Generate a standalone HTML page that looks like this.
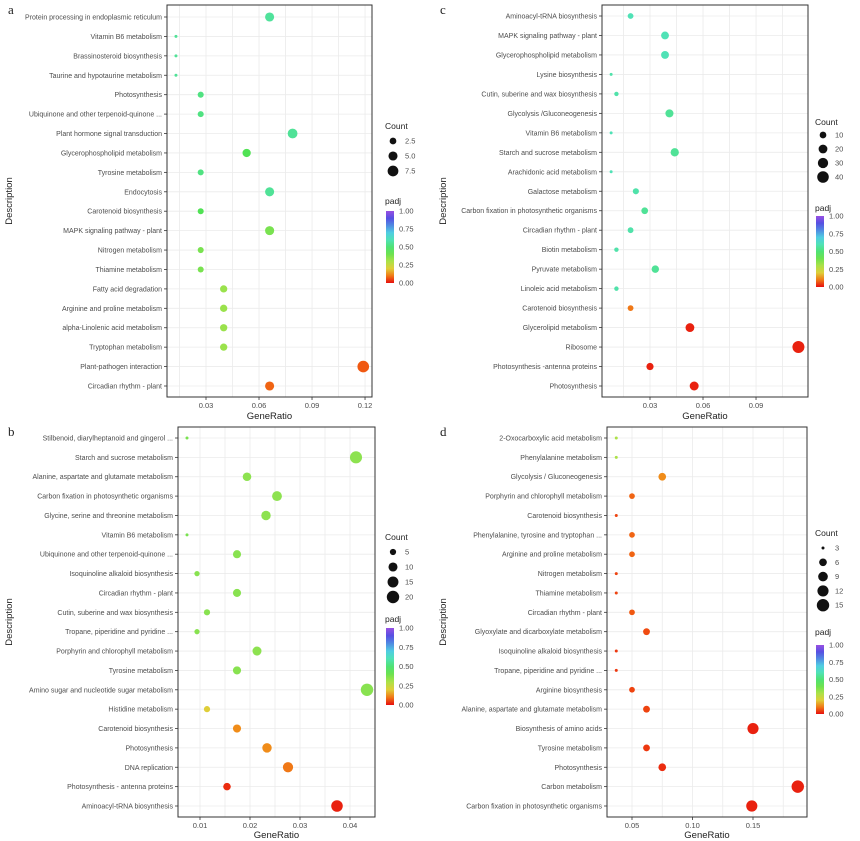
<!DOCTYPE html>
<html><head><meta charset="utf-8"><style>
body{margin:0;background:#fff;}
svg{display:block;font-family:"Liberation Sans",sans-serif;}
</style></head><body>
<svg id="chart" width="860" height="841" viewBox="0 0 860 841" xmlns="http://www.w3.org/2000/svg"></svg>
<script>
// ---------- Panel a ----------
const aTerms=["Protein processing in endoplasmic reticulum","Vitamin B6 metabolism","Brassinosteroid biosynthesis","Taurine and hypotaurine metabolism","Photosynthesis","Ubiquinone and other terpenoid-quinone ...","Plant hormone signal transduction","Glycerophospholipid metabolism","Tyrosine metabolism","Endocytosis","Carotenoid biosynthesis","MAPK signaling pathway - plant","Nitrogen metabolism","Thiamine metabolism","Fatty acid degradation","Arginine and proline metabolism","alpha-Linolenic acid metabolism","Tryptophan metabolism","Plant-pathogen interaction","Circadian rhythm - plant"];
const aRatio=[0.066,0.013,0.013,0.013,0.027,0.027,0.079,0.053,0.027,0.066,0.027,0.066,0.027,0.027,0.040,0.040,0.040,0.040,0.119,0.066];
const aCount=[5,1,1,1,2,2,6,4,2,5,2,5,2,2,3,3,3,3,9,5];
const aPadj=[0.56,0.55,0.55,0.55,0.52,0.52,0.55,0.45,0.52,0.55,0.45,0.38,0.38,0.38,0.33,0.33,0.33,0.33,0.07,0.08];
const aTicks=[0.03,0.06,0.09,0.12];
const aCountLegend=[2.5,5.0,7.5];
// ---------- Panel b ----------
const bTerms=["Stilbenoid, diarylheptanoid and gingerol ...","Starch and sucrose metabolism","Alanine, aspartate and glutamate metabolism","Carbon fixation in photosynthetic organisms","Glycine, serine and threonine metabolism","Vitamin B6 metabolism","Ubiquinone and other terpenoid-quinone ...","Isoquinoline alkaloid biosynthesis","Circadian rhythm - plant","Cutin, suberine and wax biosynthesis","Tropane, piperidine and pyridine ...","Porphyrin and chlorophyll metabolism","Tyrosine metabolism","Amino sugar and nucleotide sugar metabolism","Histidine metabolism","Carotenoid biosynthesis","Photosynthesis","DNA replication","Photosynthesis - antenna proteins","Aminoacyl-tRNA biosynthesis"];
const bRatio=[0.0074,0.0412,0.0194,0.0254,0.0232,0.0074,0.0174,0.0094,0.0174,0.0114,0.0094,0.0214,0.0174,0.0434,0.0114,0.0174,0.0234,0.0276,0.0154,0.0374];
const bCount=[3,19,9,12,11,3,8,4,8,5,4,10,8,20,5,8,11,13,7,17];
const bPadj=[0.38,0.35,0.35,0.35,0.35,0.38,0.36,0.36,0.36,0.36,0.36,0.35,0.36,0.36,0.2,0.12,0.12,0.1,0.03,0.02];
const bTicks=[0.01,0.02,0.03,0.04];
const bCountLegend=[5,10,15,20];
// ---------- Panel c ----------
const cTerms=["Aminoacyl-tRNA biosynthesis","MAPK signaling pathway - plant","Glycerophospholipid metabolism","Lysine biosynthesis","Cutin, suberine and wax biosynthesis","Glycolysis /Gluconeogenesis","Vitamin B6 metabolism","Starch and sucrose metabolism","Arachidonic acid metabolism","Galactose metabolism","Carbon fixation in photosynthetic organisms","Circadian rhythm - plant","Biotin metabolism","Pyruvate metabolism","Linoleic acid metabolism","Carotenoid biosynthesis","Glycerolipid metabolism","Ribosome","Photosynthesis -antenna proteins","Photosynthesis"];
const cRatio=[0.019,0.0385,0.0385,0.008,0.011,0.041,0.008,0.044,0.008,0.022,0.027,0.019,0.011,0.033,0.011,0.019,0.0526,0.114,0.030,0.055];
const cCount=[7,15,15,3,4,16,3,17,3,8,10,7,4,13,4,7,20,44,12,21];
const cPadj=[0.6,0.6,0.6,0.58,0.58,0.55,0.6,0.55,0.6,0.58,0.55,0.58,0.58,0.55,0.58,0.1,0.02,0.02,0.02,0.02];
const cTicks=[0.03,0.06,0.09];
const cCountLegend=[10,20,30,40];
// ---------- Panel d ----------
const dTerms=["2-Oxocarboxylic acid metabolism","Phenylalanine metabolism","Glycolysis / Gluconeogenesis","Porphyrin and chlorophyll metabolism","Carotenoid biosynthesis","Phenylalanine, tyrosine and tryptophan ...","Arginine and proline metabolism","Nitrogen metabolism","Thiamine metabolism","Circadian rhythm - plant","Glyoxylate and dicarboxylate metabolism","Isoquinoline alkaloid biosynthesis","Tropane, piperidine and pyridine ...","Arginine biosynthesis","Alanine, aspartate and glutamate metabolism","Biosynthesis of amino acids","Tyrosine metabolism","Photosynthesis","Carbon metabolism","Carbon fixation in photosynthetic organisms"];
const dRatio=[0.037,0.037,0.075,0.050,0.037,0.050,0.050,0.037,0.037,0.050,0.062,0.037,0.037,0.050,0.062,0.150,0.062,0.075,0.187,0.149];
const dCount=[3,3,6,4,3,4,4,3,3,4,5,3,3,4,5,12,5,6,15,12];
const dPadj=[0.3,0.3,0.12,0.08,0.05,0.08,0.08,0.05,0.05,0.07,0.06,0.04,0.04,0.05,0.05,0.02,0.04,0.03,0.02,0.02];
const dTicks=[0.05,0.10,0.15];
const dCountLegend=[3,6,9,12,15];
const padjTicks=[1.00,0.75,0.50,0.25,0.00];

const svg=document.getElementById('chart');
const NS='http://www.w3.org/2000/svg';
function mk(tag,attrs,parent){const e=document.createElementNS(NS,tag);for(const k in attrs)e.setAttribute(k,attrs[k]);(parent||svg).appendChild(e);return e;}
function colorOf(p){const L=48+12*Math.min(1,p/0.35);const S=p<0.2?88:72;return 'hsl('+(p*270).toFixed(0)+','+S+'%,'+L.toFixed(1)+'%)';}

const panels=[
 {id:'a',letter:'a',lx:8,ly:14,L:167,R:372,T:5,B:397,y0:17,y1:386,t0:0.03,x0:206,ppu:1767,terms:aTerms,ratio:aRatio,count:aCount,padj:aPadj,ticks:aTicks,cl:aCountLegend,cmin:1,cmax:9,rmin:1.5,rmax:5.8,legX:385,countY:126,ent0:141,entStep:15,padjY:201,barT:211,barB:283,titleY:419,ytx:12},
 {id:'b',letter:'b',lx:8,ly:436,L:178,R:375,T:427,B:817,y0:438,y1:806,t0:0.01,x0:200,ppu:5000,terms:bTerms,ratio:bRatio,count:bCount,padj:bPadj,ticks:bTicks,cl:bCountLegend,cmin:3,cmax:20,rmin:1.5,rmax:6.2,legX:385,countY:537,ent0:552,entStep:15,padjY:619,barT:628,barB:705,titleY:838,ytx:12},
 {id:'c',letter:'c',lx:440,ly:14,L:602,R:808,T:5,B:397,y0:16,y1:386,t0:0.03,x0:650,ppu:1767,terms:cTerms,ratio:cRatio,count:cCount,padj:cPadj,ticks:cTicks,cl:cCountLegend,cmin:3,cmax:44,rmin:1.5,rmax:6,legX:815,countY:122,ent0:135,entStep:14,padjY:208,barT:216,barB:287,titleY:419,ytx:446},
 {id:'d',letter:'d',lx:440,ly:436,L:607,R:807,T:427,B:817,y0:438,y1:806,t0:0.05,x0:632,ppu:1210,terms:dTerms,ratio:dRatio,count:dCount,padj:dPadj,ticks:dTicks,cl:dCountLegend,cmin:3,cmax:15,rmin:1.5,rmax:6.2,legX:815,countY:533,ent0:548,entStep:14.3,padjY:632,barT:645,barB:714,titleY:838,ytx:446}
];

panels.forEach(P=>{
  const g=mk('g',{});
  
  
  const xs=v=>P.x0+(v-P.t0)*P.ppu;
  const n=P.terms.length;
  const ys=i=>P.y0+i*(P.y1-P.y0)/(n-1);
  const rs=c=>P.rmin+(P.rmax-P.rmin)*Math.sqrt(Math.max(0,(c-P.cmin))/(P.cmax-P.cmin));
  const lt=mk('text',{x:P.lx,y:P.ly,'font-family':'Liberation Serif,serif','font-size':13,fill:'#222'},g);
  lt.textContent=P.letter;
  
  
  mk('rect',{x:P.L,y:P.T,width:P.R-P.L,height:P.B-P.T,fill:'#fff'},g);
  const step=P.ticks[1]-P.ticks[0];
  for(let v=P.ticks[0]-step;v<=P.ticks[P.ticks.length-1]+step+1e-9;v+=step/2){
    const x=xs(v); if(x<=P.L||x>=P.R) continue;
    mk('line',{x1:x,x2:x,y1:P.T,y2:P.B,stroke:'#ebebeb','stroke-width':0.8},g);
  }
  for(let i=0;i<n;i++){
    const y=ys(i);
    mk('line',{x1:P.L,x2:P.R,y1:y,y2:y,stroke:'#ebebeb','stroke-width':0.8},g);
    mk('line',{x1:P.L-3,x2:P.L,y1:y,y2:y,stroke:'#333','stroke-width':0.8},g);
    const t=mk('text',{x:P.L-5,y:y+2.5,'text-anchor':'end','font-size':7,fill:'#4d4d4d'},g);
    t.textContent=P.terms[i];
    
    
  }
  P.ticks.forEach(v=>{
    const x=xs(v);
    mk('line',{x1:x,x2:x,y1:P.B,y2:P.B+3,stroke:'#333','stroke-width':0.8},g);
    const t=mk('text',{x:x,y:P.B+11,'text-anchor':'middle','font-size':7.5,fill:'#4d4d4d'},g);
    t.textContent=v.toFixed(2);
    
    
  });
  mk('rect',{x:P.L,y:P.T,width:P.R-P.L,height:P.B-P.T,fill:'none',stroke:'#333','stroke-width':1},g);
  for(let i=0;i<n;i++){
    const c=mk('circle',{cx:xs(P.ratio[i]),cy:ys(i),r:rs(P.count[i]),fill:colorOf(P.padj[i])},g);
    
    
  }
  const xt=mk('text',{x:(P.L+P.R)/2,y:P.titleY,'text-anchor':'middle','font-size':9.5,fill:'#222'},g);
  xt.textContent='GeneRatio';
  
  
  const ycy=(P.T+P.B)/2;
  const yt=mk('text',{x:P.ytx,y:ycy,'text-anchor':'middle','font-size':9.5,fill:'#222',transform:'rotate(-90 '+P.ytx+' '+ycy+')'},g);
  yt.textContent='Description';
  
  
  const ct=mk('text',{x:P.legX,y:P.countY+3,'font-size':8.5,fill:'#222'},g);
  ct.textContent='Count';
  
  
  P.cl.forEach((c,k)=>{
    const y=P.ent0+k*P.entStep;
    const d=mk('circle',{cx:P.legX+8,cy:y,r:rs(c),fill:'#111'},g);
    
    
    const t=mk('text',{x:P.legX+20,y:y+2.5,'font-size':7.5,fill:'#4d4d4d'},g);
    t.textContent=(P.id==='a')?c.toFixed(1):String(c);
    
    
  });
  const pt=mk('text',{x:P.legX,y:P.padjY+3,'font-size':8.5,fill:'#222'},g);
  pt.textContent='padj';
  
  
  const gid='grad'+P.id;
  const defs=mk('defs',{},g);
  const lg=mk('linearGradient',{id:gid,x1:0,y1:1,x2:0,y2:0},defs);
  for(let s=0;s<=10;s++){mk('stop',{offset:(s*10)+'%','stop-color':colorOf(s/10)},lg);}
  const bar=mk('rect',{x:P.legX+1,y:P.barT,width:8,height:P.barB-P.barT,fill:'url(#'+gid+')'},g);
  
  
  padjTicks.forEach(v=>{
    const y=P.barB-v*(P.barB-P.barT);
    const t=mk('text',{x:P.legX+14,y:y+2.5,'font-size':7.5,fill:'#4d4d4d'},g);
    t.textContent=v.toFixed(2);
    
    
  });
});
</script>
</body></html>
